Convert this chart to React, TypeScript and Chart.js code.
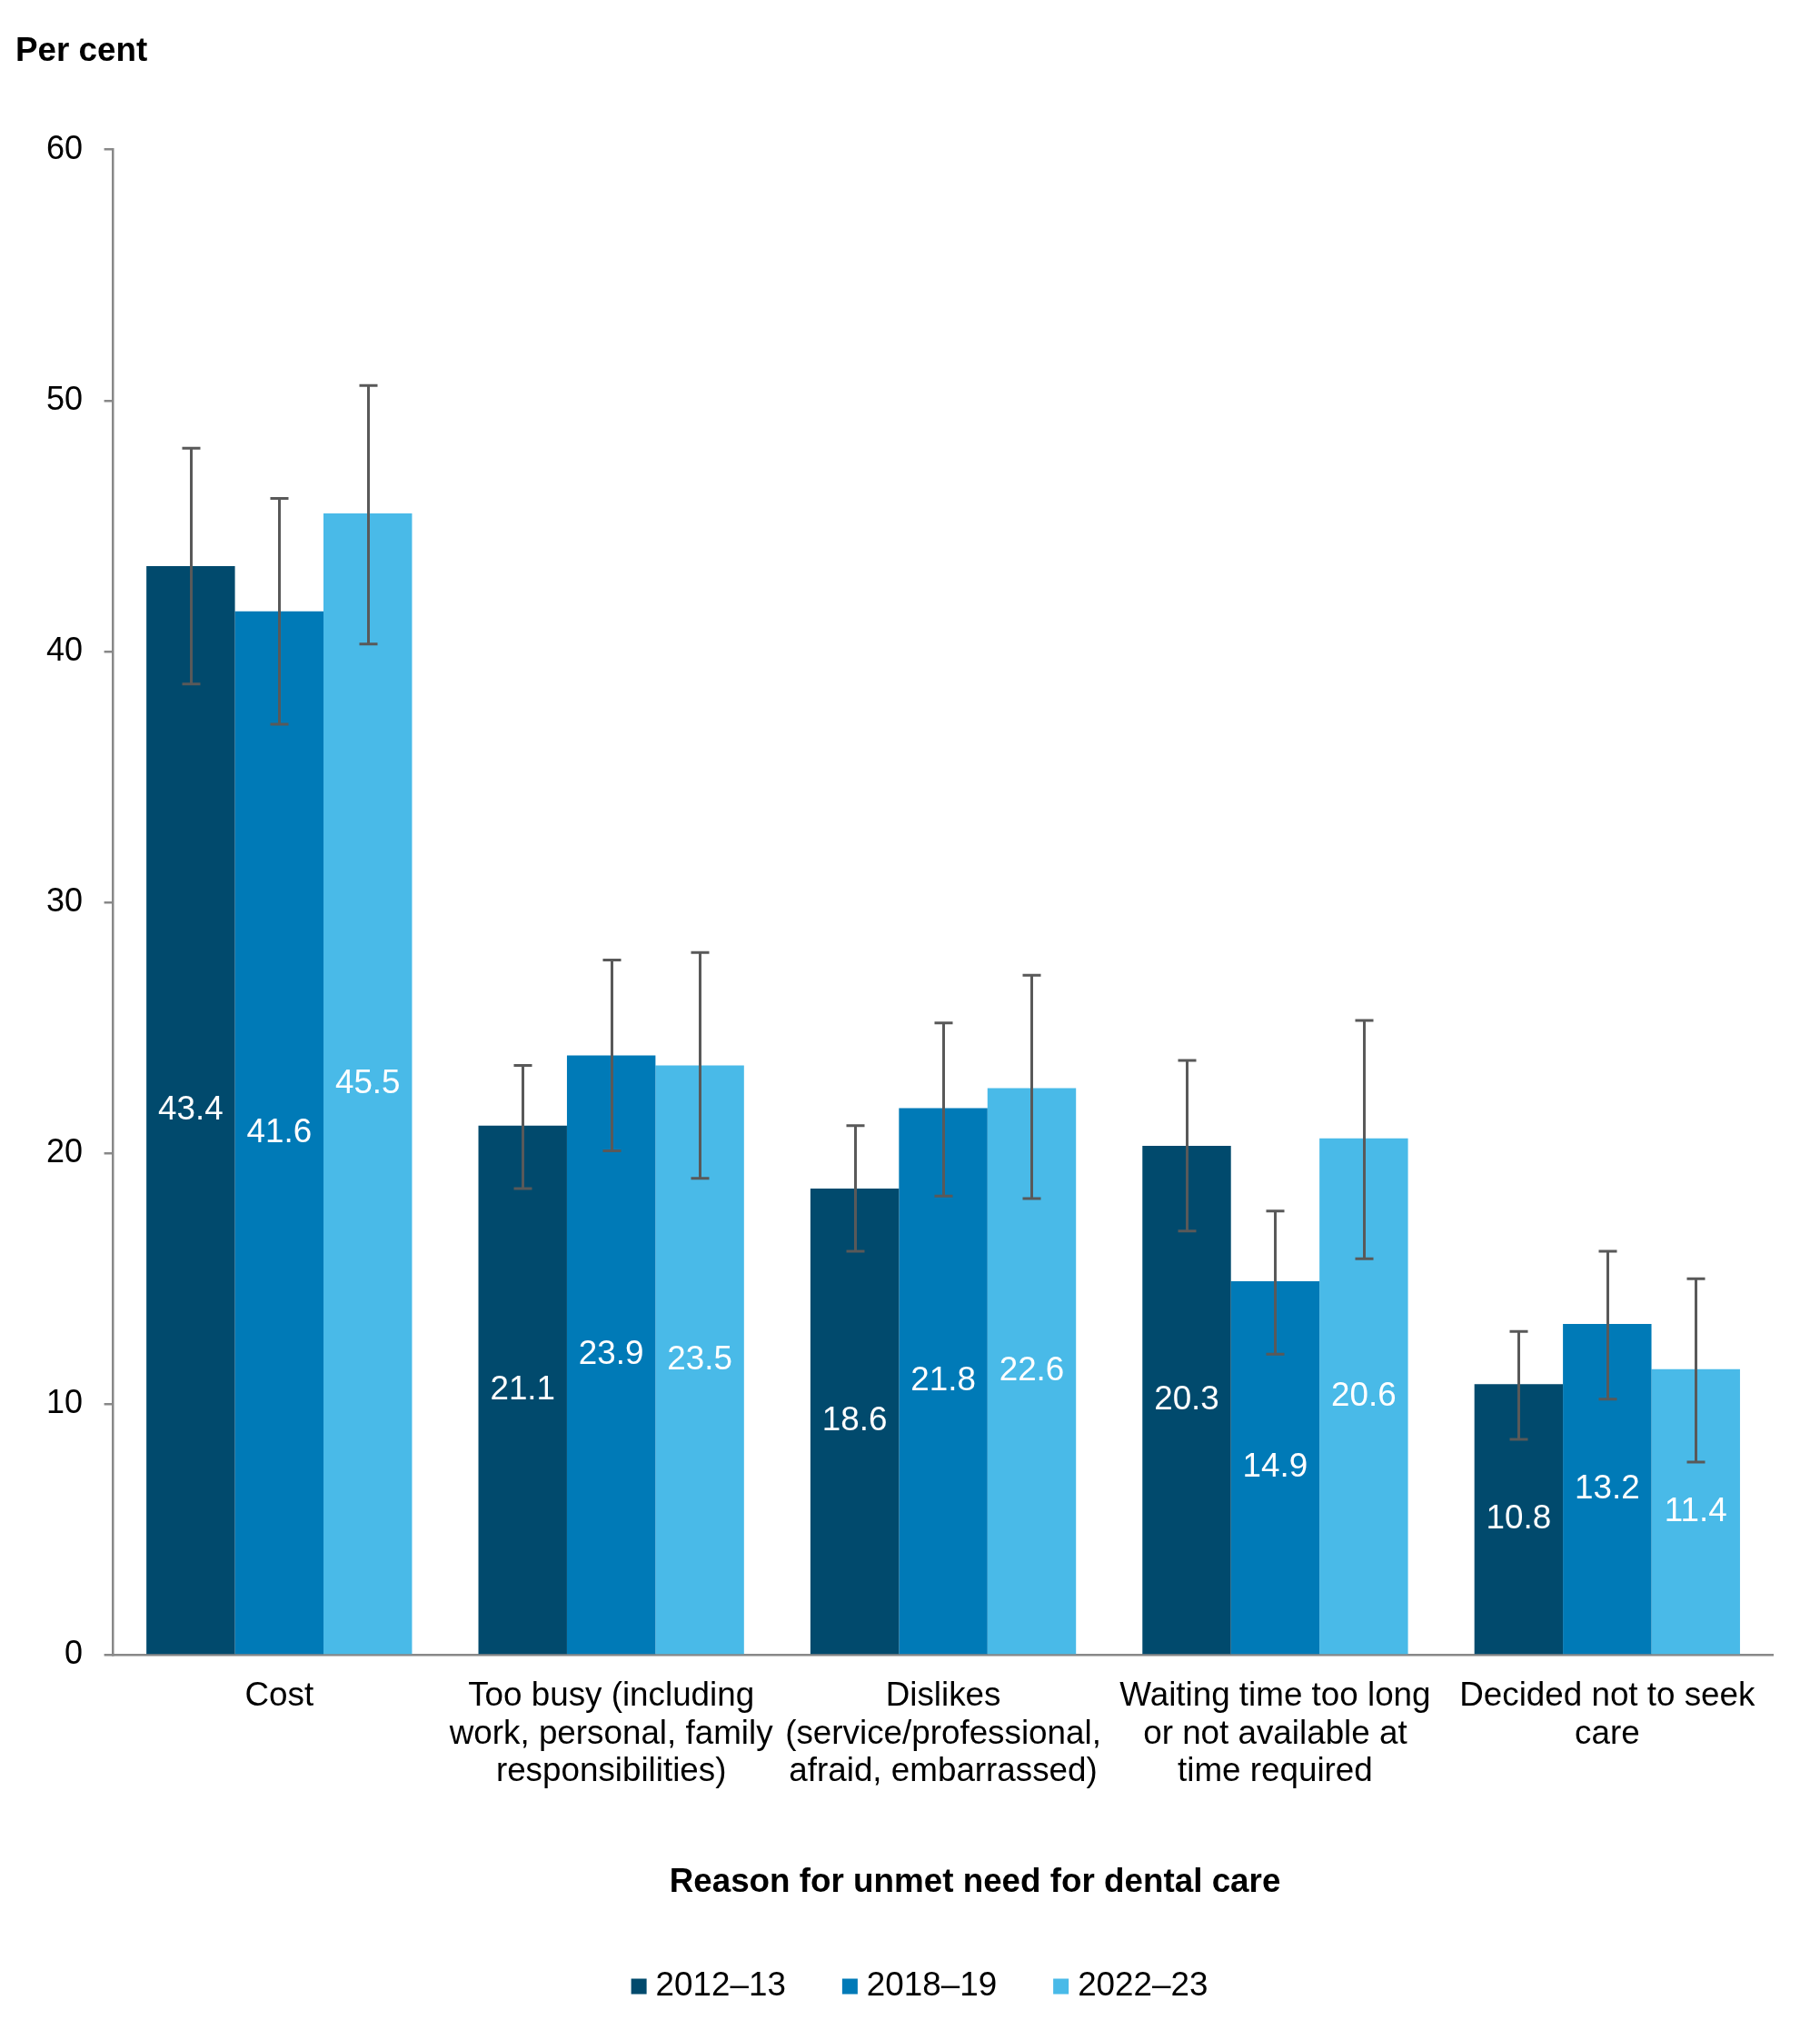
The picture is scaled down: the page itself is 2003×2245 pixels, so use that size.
import React, { useEffect, useRef } from 'react';
import { Chart, registerables } from 'chart.js';

Chart.register(...registerables);

const categories: (string | string[])[] = [
  'Cost',
  ['Too busy (including', 'work, personal, family', 'responsibilities)'],
  ['Dislikes', '(service/professional,', 'afraid, embarrassed)'],
  ['Waiting time too long', 'or not available at', 'time required'],
  ['Decided not to seek', 'care'],
];
const seriesLabels = ['2012–13', '2018–19', '2022–23'];
const seriesColors = ['#014A6D', '#007AB7', '#49BAE8'];

const values2012 = [43.4, 21.1, 18.6, 20.3, 10.8];
const values2018 = [41.6, 23.9, 21.8, 14.9, 13.2];
const values2022 = [45.5, 23.5, 22.6, 20.6, 11.4];

const lower2012 = [38.7, 18.6, 16.1, 16.9, 8.6];
const upper2012 = [48.1, 23.5, 21.1, 23.7, 12.9];
const lower2018 = [37.1, 20.1, 18.3, 12.0, 10.2];
const upper2018 = [46.1, 27.7, 25.2, 17.7, 16.1];
const lower2022 = [40.3, 19.0, 18.2, 15.8, 7.7];
const upper2022 = [50.6, 28.0, 27.1, 25.3, 15.0];

const yTicks = [0, 10, 20, 30, 40, 50, 60];

const yTitle = 'Per cent';
const xTitle = 'Reason for unmet need for dental care';

const FONT = '"Liberation Sans", Arial, sans-serif';
const FS = 36.8;

const overlayPlugin = {
  id: 'overlay',
  afterDatasetsDraw(chart: any) {
    const ctx = chart.ctx;
    const yScale = chart.scales.y;
    ctx.save();
    // value labels
    ctx.font = `${FS}px ${FONT}`;
    ctx.fillStyle = '#ffffff';
    ctx.textAlign = 'center';
    ctx.textBaseline = 'middle';
    chart.data.datasets.forEach((ds: any, di: number) => {
      const meta = chart.getDatasetMeta(di);
      meta.data.forEach((bar: any, i: number) => {
        const v = ds.data[i];
        ctx.fillText(v.toFixed(1), bar.x, (bar.y + bar.base) / 2);
      });
    });
    // error bars
    ctx.strokeStyle = '#595959';
    ctx.lineWidth = 3;
    chart.data.datasets.forEach((ds: any, di: number) => {
      const meta = chart.getDatasetMeta(di);
      meta.data.forEach((bar: any, i: number) => {
        const lo = yScale.getPixelForValue(ds.errLow[i]);
        const hi = yScale.getPixelForValue(ds.errHigh[i]);
        const x = Math.round(bar.x) + 0.5;
        ctx.beginPath();
        ctx.moveTo(x, lo);
        ctx.lineTo(x, hi);
        ctx.moveTo(x - 10, hi);
        ctx.lineTo(x + 10, hi);
        ctx.moveTo(x - 10, lo);
        ctx.lineTo(x + 10, lo);
        ctx.stroke();
      });
    });
    ctx.restore();
  },
  afterDraw(chart: any) {
    const ctx = chart.ctx;
    ctx.save();
    ctx.fillStyle = '#000000';
    // y title
    ctx.font = `bold ${FS}px ${FONT}`;
    ctx.textAlign = 'left';
    ctx.textBaseline = 'middle';
    ctx.fillText(yTitle, 17, 57);
    // x title
    ctx.textAlign = 'center';
    ctx.fillText(xTitle, 1073, 2072);
    // legend
    ctx.font = `${FS}px ${FONT}`;
    const box = 17;
    const gapBox = 10;
    const gapItem = 62;
    const widths = chart.data.datasets.map((ds: any) => ctx.measureText(ds.label).width);
    const total = widths.reduce((s: number, w: number) => s + box + gapBox + w, 0) + gapItem * (widths.length - 1);
    let x = 1012 - total / 2;
    const cy = 2186;
    chart.data.datasets.forEach((ds: any, di: number) => {
      ctx.fillStyle = ds.backgroundColor;
      ctx.fillRect(x, cy - box / 2, box, box);
      ctx.fillStyle = '#000000';
      ctx.textAlign = 'left';
      ctx.fillText(ds.label, x + box + gapBox, cy);
      x += box + gapBox + widths[di] + gapItem;
    });
    ctx.restore();
  },
};

export default function App() {
  const ref = useRef<HTMLCanvasElement | null>(null);

  useEffect(() => {
    if (!ref.current) return;
    Chart.defaults.font.family = FONT;
    const values = [values2012, values2018, values2022];
    const lows = [lower2012, lower2018, lower2022];
    const highs = [upper2012, upper2018, upper2022];
    const chart = new Chart(ref.current, {
      type: 'bar',
      data: {
        labels: categories as any,
        datasets: seriesLabels.map((label, i) => ({
          label,
          data: values[i],
          backgroundColor: seriesColors[i],
          borderWidth: 0,
          categoryPercentage: 0.8,
          barPercentage: 1.0,
          errLow: lows[i],
          errHigh: highs[i],
        })) as any,
      },
      options: {
        responsive: false,
        animation: false,
        devicePixelRatio: 1,
        layout: { padding: { left: 0, right: 51.5, top: 164.7, bottom: 273.5 } },
        plugins: {
          legend: { display: false },
          tooltip: { enabled: false },
          title: { display: false },
        },
        scales: {
          x: {
            grid: { display: false, drawTicks: false },
            border: { display: true, color: '#888888', width: 2.5 },
            ticks: {
              color: '#000000',
              font: { size: FS, lineHeight: 1.13 },
              padding: 24.5,
              maxRotation: 0,
              minRotation: 0,
              autoSkip: false,
            },
            afterFit: (a: any) => {
              a.height = 150;
            },
          },
          y: {
            min: 0,
            max: 60,
            afterBuildTicks: (a: any) => {
              a.ticks = yTicks.map((v) => ({ value: v }));
            },
            grid: {
              display: true,
              drawOnChartArea: false,
              drawTicks: true,
              tickLength: 10,
              color: '#888888',
              lineWidth: 2.5,
            },
            border: { display: true, color: '#888888', width: 2.5 },
            ticks: { color: '#000000', font: { size: 36 }, padding: 23.6 },
            afterFit: (a: any) => {
              a.width = 124.6;
            },
          },
        },
      } as any,
      plugins: [overlayPlugin],
    });
    return () => chart.destroy();
  }, []);

  return (
    <div style={{ position: 'fixed', left: 0, top: 0, width: 2003, height: 2245, background: '#ffffff' }}>
      <canvas ref={ref} width={2003} height={2245} style={{ display: 'block', width: 2003, height: 2245 }} />
    </div>
  );
}
